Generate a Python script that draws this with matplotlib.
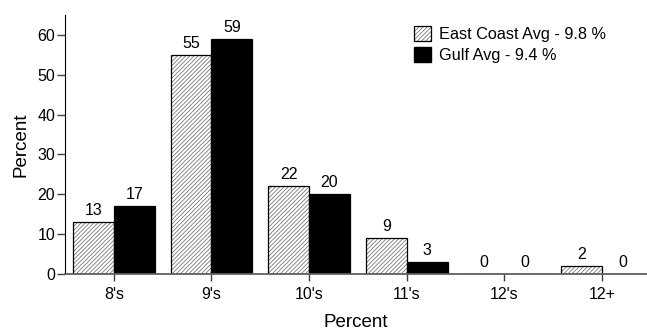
import matplotlib
matplotlib.use("Agg")
import matplotlib.pyplot as plt
import numpy as np
from matplotlib.patches import Patch
from matplotlib.legend_handler import HandlerTuple

categories = ["8's", "9's", "10's", "11's", "12's", "12+"]
east_coast = [13, 55, 22, 9, 0, 2]
gulf = [17, 59, 20, 3, 0, 0]
east_label = "East Coast Avg - 9.8 %"
gulf_label = "Gulf Avg - 9.4 %"

plt.rcParams['font.family'] = ['Liberation Sans', 'DejaVu Sans']
plt.rcParams['hatch.linewidth'] = 0.5

fig = plt.figure(figsize=(6.47, 3.33), dpi=100)
ax = fig.add_axes([0.1005, 0.177, 0.8995, 0.778])

x = np.arange(len(categories))
w = 0.417
hatch = '////////'

# hatched fill in gray, then a black outline on top
ax.bar(x - w / 2, east_coast, w, color='white', edgecolor='#606060',
       hatch=hatch, linewidth=0, zorder=2)
ax.bar(x - w / 2, east_coast, w, fill=False, edgecolor='black',
       linewidth=0.9, zorder=3)
ax.bar(x + w / 2, gulf, w, color='black', edgecolor='black',
       linewidth=0.9, zorder=3)

for xi, v in zip(x - w / 2, east_coast):
    ax.text(xi, v + 1.0, str(v), ha='center', va='bottom', fontsize=11.5)
for xi, v in zip(x + w / 2, gulf):
    ax.text(xi, v + 1.0, str(v), ha='center', va='bottom', fontsize=11.5)

ax.set_xlim(-0.5, 5.46)
ax.set_ylim(0, 65)
ax.set_yticks([0, 10, 20, 30, 40, 50, 60])
ax.set_xticks(x)
ax.set_xticklabels(categories)
ax.tick_params(axis='both', labelsize=11.5, width=1, color='#404040')
ax.tick_params(axis='y', length=6, pad=1)
ax.tick_params(axis='x', length=5, pad=4)

for s in ['top', 'right']:
    ax.spines[s].set_visible(False)
ax.spines['left'].set_color('black')
ax.spines['bottom'].set_color('#606060')
ax.spines['bottom'].set_linewidth(1.3)
ax.spines['bottom'].set_zorder(4)

ax.set_xlabel("Percent", fontsize=13.5, labelpad=9)
ax.set_ylabel("Percent", fontsize=13.5, labelpad=6)

east_handle = (Patch(facecolor='white', edgecolor='#606060', hatch=hatch, linewidth=0),
               Patch(fill=False, edgecolor='black', linewidth=0.9))
gulf_handle = Patch(facecolor='black', edgecolor='black')
ax.legend([east_handle, gulf_handle], [east_label, gulf_label],
          handler_map={tuple: HandlerTuple(ndivide=1, pad=0)},
          loc='upper left', bbox_to_anchor=(0.58, 1.0), frameon=False,
          fontsize=11.7, handlelength=1.05, handleheight=1.05,
          handletextpad=0.5, labelspacing=0.25, borderaxespad=0.3)

fig.savefig("out.png", dpi=100)
